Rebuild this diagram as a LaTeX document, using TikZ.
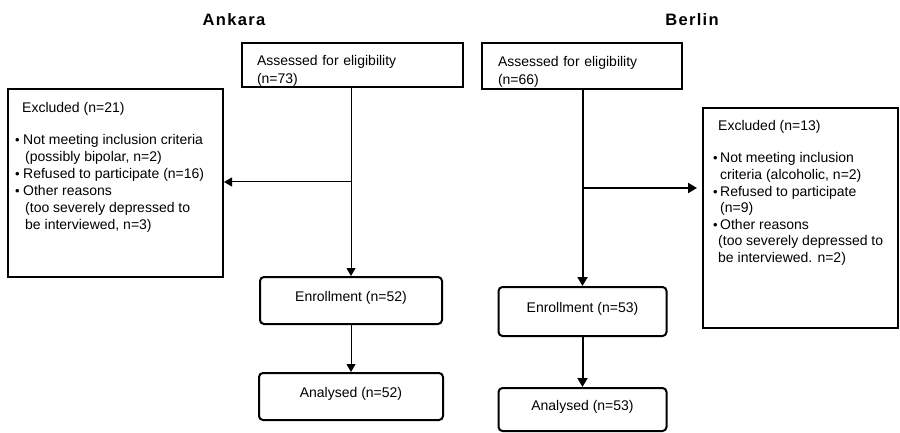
\documentclass[tikz,border=0pt]{standalone}
\usepackage{fontspec}
\setmainfont{Liberation Sans}
\newfontfamily\titlefont[LetterSpace=8]{Liberation Sans}
\usetikzlibrary{arrows.meta}
\tikzstyle{every node}=[font=\fontsize{14}{17}\selectfont,inner sep=0pt]
\tikzstyle{sqbox}=[draw=black,line width=2pt,rectangle]
\tikzstyle{rndbox}=[sqbox,rounded corners=4pt,text height=10pt,text depth=8pt]
\tikzstyle{listtxt}=[align=left,anchor=north west]
\tikzstyle{title}=[font=\titlefont\bfseries\fontsize{16.5}{18}\selectfont]
\tikzstyle{flow}=[-{Triangle[length=8pt,width=9pt]},line width=1pt]
\tikzstyle{flowthick}=[-{Triangle[length=9pt,width=10pt]},line width=2pt]

\newcommand{\exbul}[1][8pt]{\makebox[#1][l]{\fontsize{13}{13}\selectfont\textbullet}}
\newcommand{\extop}{\rule{0pt}{21pt}}

\begin{document}
\begin{tikzpicture}[x=1pt,y=-1pt]
	\useasboundingbox (0,0) rectangle (900,433);
	% titles
	\node[title] (ankara) at (234,20) {Ankara};
	\node[title] (berlin) at (692,20) {Berlin};
	% Ankara
	\node[sqbox,minimum width=221pt,minimum height=44pt,text width=191pt,align=left]
		(aassess) at (352.5,65) {\extop Assessed for eligibility\\[1pt](n=73)};
	\node[sqbox,minimum width=215pt,minimum height=188pt] (aexcl) at (115.5,183) {};
	\node[listtxt] (aexcltxt) at (15,102) {\hspace*{7pt}Excluded (n=21)\\[15pt]
		\exbul Not meeting inclusion criteria\\
		\hspace*{10pt}(possibly bipolar, n=2)\\
		\exbul Refused to participate (n=16)\\
		\exbul Other reasons\\
		\hspace*{10pt}(too severely depressed to\\
		\hspace*{10pt}be interviewed, n=3)};
	\node[rndbox,minimum width=182pt,minimum height=47pt] (aenrol) at (351,300.5) {Enrollment (n=52)};
	\node[rndbox,minimum width=184pt,minimum height=47pt] (aanal) at (351,396.5) {Analysed (n=52)};
	\coordinate (abranch) at (351,182);
	\draw[flow] (aassess.south -| aenrol.north) -- (aenrol.north);
	\draw[flow] (abranch) -- (abranch -| aexcl.east);
	\draw[flow] (aenrol) -- (aanal);
	% Berlin
	\node[sqbox,minimum width=200pt,minimum height=46pt,text width=168pt,align=left]
		(bassess) at (582,66) {\extop Assessed for eligibility\\[1pt](n=66)};
	\node[sqbox,minimum width=195pt,minimum height=220pt] (bexcl) at (800.5,218) {};
	\node[listtxt,font=\fontsize{14}{16.6}\selectfont] (bexcltxt) at (713,120) {\hspace*{5pt}Excluded (n=13)\\[16pt]
		\exbul[7pt]Not meeting inclusion\\
		\hspace*{7pt}criteria (alcoholic, n=2)\\
		\exbul[7pt]Refused to participate\\
		\hspace*{7pt}(n=9)\\
		\exbul[7pt]Other reasons\\
		\hspace*{5pt}(too severely depressed to\\
		\hspace*{5pt}be interviewed. n=2)};
	\node[rndbox,minimum width=168pt,minimum height=49pt] (benrol) at (582.5,311.5) {Enrollment (n=53)};
	\node[rndbox,minimum width=168pt,minimum height=43pt] (banal) at (582.5,409.5) {Analysed (n=53)};
	\coordinate (bbranch) at (582.5,188);
	\draw[flowthick] (bassess.south -| benrol.north) -- (benrol.north);
	\draw[flowthick,shorten >=5pt] (bbranch) -- (bbranch -| bexcl.west);
	\draw[flowthick] (benrol) -- (banal);
\end{tikzpicture}
\end{document}
